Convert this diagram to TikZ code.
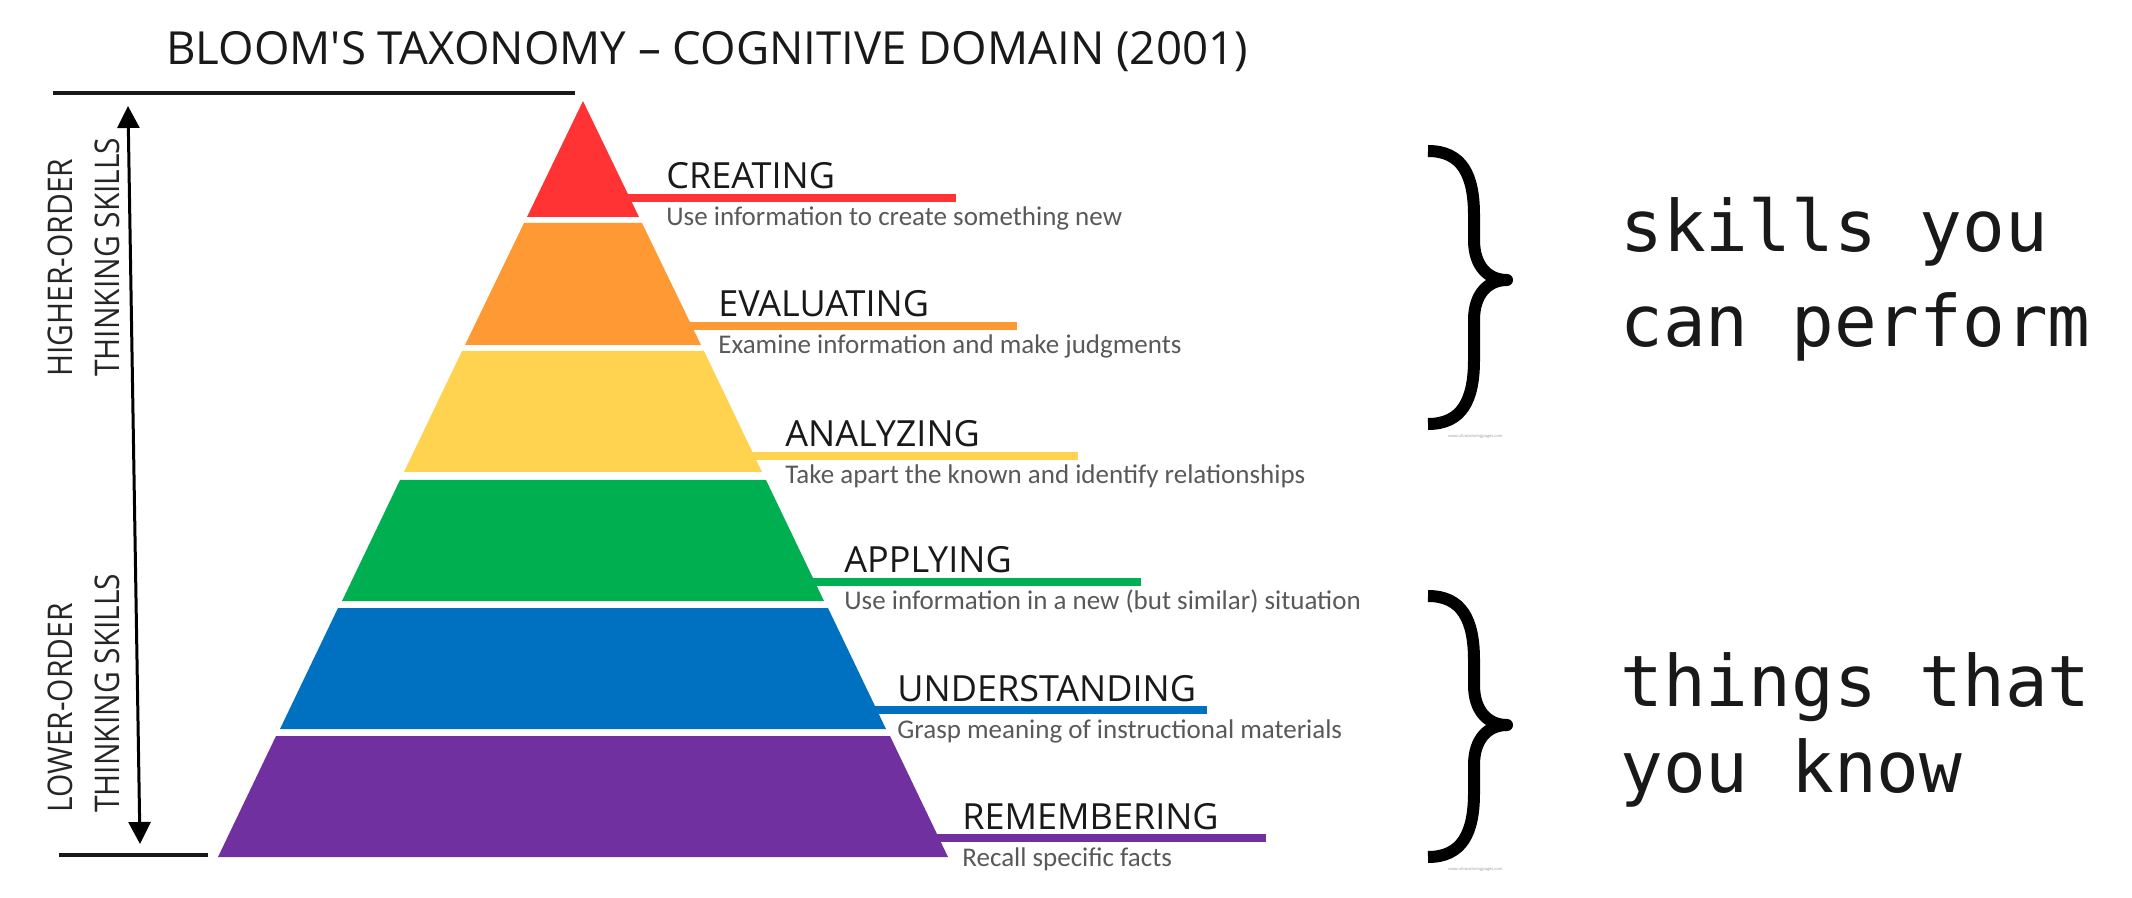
\documentclass[tikz,border=0pt]{standalone}
\usepackage{fontspec}
\setmainfont{Open Sans}[Ligatures=TeXOff]
\newfontfamily\descfont{Carlito}
\newfontfamily\notefont{DejaVu Sans Mono}
\usetikzlibrary{arrows.meta, positioning}

\definecolor{bloomred}{HTML}{FF3333}
\definecolor{bloomorange}{HTML}{FF9933}
\definecolor{bloomyellow}{HTML}{FFD34F}
\definecolor{bloomgreen}{HTML}{00B050}
\definecolor{bloomblue}{HTML}{0070C0}
\definecolor{bloompurple}{HTML}{7030A0}
\definecolor{descgray}{HTML}{595959}

\tikzstyle{heading} = [
    anchor=base west,
    inner sep=0pt,
    text=black!90,
    font=\fontsize{22.8}{26}\selectfont
]
\tikzstyle{level} = [
    anchor=base west,
    inner sep=0pt,
    text=black!90,
    font=\fontsize{18}{20}\selectfont
]
\tikzstyle{desc} = [
    anchor=base west,
    inner sep=0pt,
    text=descgray,
    font=\descfont\fontsize{13.5}{15}\selectfont
]
\tikzstyle{side} = [
    rotate=90,
    xscale=0.88,
    anchor=west,
    align=left,
    inner sep=0pt,
    text=black!85,
    font=\fontsize{17}{23.5}\selectfont
]
\tikzstyle{note} = [
    anchor=base west,
    inner sep=0pt,
    text=black!90,
    font=\notefont\fontsize{35.5}{40}\selectfont
]
\tikzstyle{watermark} = [
    anchor=west,
    inner sep=0pt,
    text=black!40,
    font=\fontsize{2}{2}\selectfont
]
\tikzstyle{rule} = [line width=4pt]
\tikzstyle{bar} = [line width=2pt, black!90]
\tikzstyle{curly} = [line width=6pt, line join=round]
\tikzstyle{arrow} = [line width=1.5pt,
    {Triangle[width=11pt,length=11pt]}-{Triangle[width=11pt,length=11pt]}]

\begin{document}
\begin{tikzpicture}[x=0.5pt, y=-0.5pt]

\fill[white] (0,0) rectangle (2132,898);
\useasboundingbox (0,0) rectangle (2132,898);

\node (title) [heading] at (166,65)
{BLOOM'S TAXONOMY – COGNITIVE DOMAIN (2001)};

% left scale
\coordinate (topleft) at (53,93);
\coordinate (topright) at (575,93);
\coordinate (botleft) at (59,855);
\coordinate (botright) at (208,855);
\coordinate (uptip) at (128,106);
\coordinate (downtip) at (140,844);
\draw [bar] (topleft) -- (topright);
\draw [bar] (botleft) -- (botright);
\draw [arrow] (uptip) -- (downtip);

\node (higher) [side] at (83.5,377) {HIGHER-ORDER\\THINKING SKILLS};
\node (lower) [side] at (83.5,813) {LOWER-ORDER\\THINKING SKILLS};

% pyramid
\fill [bloomred] (583,101) -- (639,217) -- (527,217) -- cycle;
\fill [bloomorange] (524,223) -- (642,223) -- (701,345) -- (465,345) -- cycle;
\fill [bloomyellow] (462,351) -- (704,351) -- (762,472) -- (404,472) -- cycle;
\fill [bloomgreen] (400,480) -- (766,480) -- (824,601) -- (342,601) -- cycle;
\fill [bloomblue] (338,608) -- (828,608) -- (886,729) -- (280,729) -- cycle;
\fill [bloompurple] (276,736) -- (890,736) -- (948,857) -- (218,857) -- cycle;

% levels
\node (creating) [level] at (666,189) {CREATING};
\node (creatingtxt) [desc] at (666,226) {Use information to create something new};
\coordinate (creatingend) at (956,198);
\draw [rule, bloomred] (626,198) -- (creatingend);

\node (evaluating) [level] at (718,317) {EVALUATING};
\node (evaluatingtxt) [desc] at (718,354) {Examine information and make judgments};
\coordinate (evaluatingend) at (1017,326);
\draw [rule, bloomorange] (688,326) -- (evaluatingend);

\node (analyzing) [level] at (785,447) {ANALYZING};
\node (analyzingtxt) [desc] at (785,484) {Take apart the known and identify relationships};
\coordinate (analyzingend) at (1078,456);
\draw [rule, bloomyellow] (750,456) -- (analyzingend);

\node (applying) [level] at (844,573) {APPLYING};
\node (applyingtxt) [desc] at (844,610) {Use information in a new (but similar) situation};
\coordinate (applyingend) at (1141,582);
\draw [rule, bloomgreen] (811,582) -- (applyingend);

\node (understanding) [level] at (897,701) {UNDERSTANDING};
\node (understandingtxt) [desc] at (897,738) {Grasp meaning of instructional materials};
\coordinate (understandingend) at (1207,710);
\draw [rule, bloomblue] (873,710) -- (understandingend);

\node (remembering) [level] at (962,829) {REMEMBERING};
\node (rememberingtxt) [desc] at (962,866) {Recall specific facts};
\coordinate (rememberingend) at (1266,838);
\draw [rule, bloompurple] (935,838) -- (rememberingend);

% braces
\draw [curly] (1428,151) .. controls (1462,151) and (1474,175) .. (1474,215)
    -- (1474,240) .. controls (1474,266) and (1488,280) .. (1507,280)
    .. controls (1488,280) and (1474,294) .. (1474,320)
    -- (1474,360) .. controls (1474,400) and (1462,424) .. (1428,424);
\draw [curly] (1428,596) .. controls (1462,596) and (1474,620) .. (1474,660)
    -- (1474,685) .. controls (1474,711) and (1488,725) .. (1507,725)
    .. controls (1488,725) and (1474,739) .. (1474,765)
    -- (1474,793) .. controls (1474,833) and (1462,857) .. (1428,857);
\node (markup) [watermark] at (1448,436) {www.ultracoloringpages.com};
\node (markdown) [watermark] at (1448,869) {www.ultracoloringpages.com};

\node (skills) [note] at (1620,252) {skills you};
\node (perform) [note] at (1620,347) {can perform};
\node (things) [note] at (1620,706) {things that};
\node (know) [note] at (1620,792) {you know};

\end{tikzpicture}
\end{document}
